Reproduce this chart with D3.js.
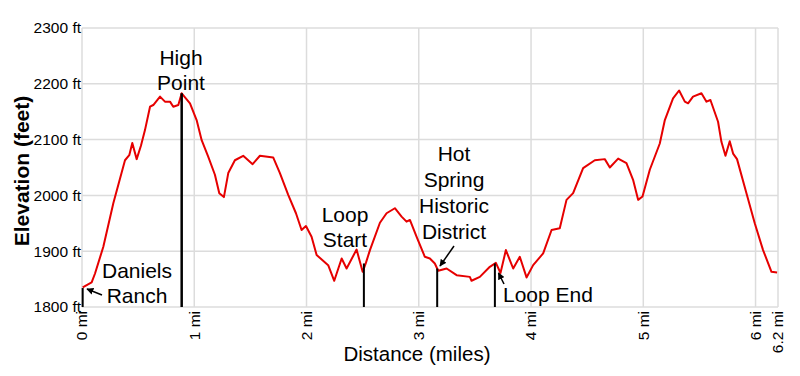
<!DOCTYPE html>
<html>
<head>
<meta charset="utf-8">
<script src="https://cdn.jsdelivr.net/npm/d3@7"></script>
<style>
  body { margin: 0; background: #fff; }
  text { font-family: Arial, "Liberation Sans", sans-serif; fill: #000; }
</style>
</head>
<body>
<div id="chart"></div>
<script>
// distance (miles) and elevation (feet)
const miles = [0.006, 0.086, 0.116, 0.19, 0.279, 0.383, 0.421, 0.448, 0.487, 0.525, 0.561, 0.606, 0.635, 0.695, 0.739, 0.784, 0.813, 0.858, 0.888, 0.962,
  1.021, 1.066, 1.125, 1.184, 1.223, 1.264, 1.303, 1.362, 1.436, 1.52, 1.585, 1.703, 1.763, 1.837, 1.906, 1.956, 1.995,
  2.045, 2.09, 2.193, 2.247, 2.313, 2.357, 2.446, 2.5, 2.529, 2.565, 2.654, 2.713, 2.787, 2.847, 2.891, 2.921, 2.98,
  3.054, 3.099, 3.143, 3.173, 3.248, 3.337, 3.455, 3.47, 3.544, 3.633, 3.687, 3.728, 3.776, 3.841, 3.9, 3.96,
  4.019, 4.108, 4.183, 4.256, 4.316, 4.375, 4.464, 4.568, 4.657, 4.702, 4.776, 4.85, 4.909, 4.954, 4.993,
  5.058, 5.147, 5.192, 5.265, 5.319, 5.37, 5.399, 5.443, 5.518, 5.563, 5.598, 5.666, 5.696, 5.732, 5.77, 5.8, 5.835, 5.919, 5.993,
  6.067, 6.142, 6.192];
const elevation = [1835, 1844, 1860, 1908, 1986, 2063, 2072, 2094, 2065, 2089, 2117, 2159, 2162, 2177, 2168, 2168, 2159, 2162, 2183, 2165,
  2135, 2099, 2069, 2037, 2004, 1997, 2040, 2063, 2071, 2056, 2071, 2068, 2040, 2001, 1968, 1938, 1945,
  1926, 1893, 1875, 1847, 1887, 1869, 1903, 1863, 1879, 1902, 1951, 1968, 1977, 1962, 1953, 1956, 1926,
  1890, 1887, 1878, 1865, 1869, 1857, 1854, 1847, 1854, 1872, 1879, 1861, 1902, 1869, 1890, 1853,
  1875, 1896, 1938, 1941, 1992, 2004, 2049, 2063, 2065, 2050, 2066, 2058, 2028, 1992, 1998,
  2046, 2093, 2135, 2174, 2188, 2168, 2165, 2177, 2183, 2168, 2171, 2132, 2096, 2071, 2097, 2075, 2065, 2004, 1950,
  1902, 1863, 1862];

const yTicks = [1800, 1900, 2000, 2100, 2200, 2300];
const xTicks = [0, 1, 2, 3, 4, 5, 6, 6.2];

// waypoints along the trail
const wpNames = [["Daniels", "Ranch"], ["High", "Point"], ["Loop", "Start"], ["Hot", "Spring", "Historic", "District"], ["Loop End"]];
const wpMiles = [0.006, 0.888, 2.511, 3.164, 3.678];
const wpElev = [1834, 2183, 1878, 1869, 1878];

const width = 800, height = 376;
const x = d3.scaleLinear().domain([0, 6.2]).range([82, 778]);
const y = d3.scaleLinear().domain([1800, 2300]).range([307, 28]);

const svg = d3.select("#chart").append("svg")
  .attr("width", width)
  .attr("height", height);

svg.append("defs").append("marker")
  .attr("id", "arrow")
  .attr("viewBox", "0 0 10 10")
  .attr("refX", 9).attr("refY", 5)
  .attr("markerWidth", 7).attr("markerHeight", 7)
  .attr("markerUnits", "userSpaceOnUse")
  .attr("orient", "auto")
  .append("path")
  .attr("d", "M0,0L10,5L0,10z")
  .attr("fill", "#000");

// grid
svg.append("g").selectAll("line.h")
  .data(yTicks).enter().append("line")
  .attr("x1", x(0)).attr("x2", x(6.2))
  .attr("y1", d => y(d)).attr("y2", d => y(d))
  .attr("stroke", "#dcdcdc").attr("stroke-width", 1.5);

svg.append("g").selectAll("line.v")
  .data(xTicks).enter().append("line")
  .attr("x1", d => x(d)).attr("x2", d => x(d))
  .attr("y1", y(2300)).attr("y2", y(1800))
  .attr("stroke", "#dcdcdc").attr("stroke-width", 1.5);

// y tick labels
svg.append("g").selectAll("text")
  .data(yTicks).enter().append("text")
  .attr("x", 81).attr("y", d => y(d))
  .attr("dy", "0.35em")
  .attr("text-anchor", "end")
  .style("font-size", "15.5px")
  .text(d => d + " ft");

// x tick labels, rotated
svg.append("g").selectAll("text")
  .data(xTicks).enter().append("text")
  .attr("transform", d => `translate(${x(d)},311) rotate(-90)`)
  .attr("dy", "0.35em")
  .attr("text-anchor", "end")
  .style("font-size", "15.5px")
  .text(d => d + " mi");

// axis titles
svg.append("text")
  .attr("transform", "translate(22,171) rotate(-90)")
  .attr("dy", "0.35em")
  .attr("text-anchor", "middle")
  .style("font-size", "21px")
  .style("font-weight", "bold")
  .text("Elevation (feet)");

svg.append("text")
  .attr("x", 417).attr("y", 361)
  .attr("text-anchor", "middle")
  .style("font-size", "20.5px")
  .text("Distance (miles)");

// profile
const line = d3.line()
  .x((d, i) => x(miles[i]))
  .y(d => y(d));

svg.append("path")
  .datum(elevation)
  .attr("d", line)
  .attr("fill", "none")
  .attr("stroke", "#e60000")
  .attr("stroke-width", 2)
  .attr("stroke-linejoin", "round");

// waypoint posts
const postWidth = [2, 2.5, 2, 2, 2];
wpMiles.forEach((m, i) => {
  svg.append("line")
    .attr("x1", x(m)).attr("x2", x(m))
    .attr("y1", y(wpElev[i])).attr("y2", y(1800))
    .attr("stroke", "#000")
    .attr("stroke-width", postWidth[i]);
});

// label placement: [center x, first baseline, line step, anchor]
const labelPos = [[137, 278, 25, "middle"], [181, 65, 25, "middle"], [345, 222, 25, "middle"], [454, 161, 26, "middle"], [503, 302, 25, "start"]];
wpNames.forEach((lines, i) => {
  const p = labelPos[i];
  const t = svg.append("text")
    .attr("text-anchor", p[3])
    .style("font-size", "21px");
  lines.forEach((s, j) => {
    t.append("tspan").attr("x", p[0]).attr("y", p[1] + j * p[2]).text(s);
  });
});

// pointer arrows: [from x, from y, to x, to y]
const arrows = [[102, 295, 87, 289], [454, 246, 440, 266], [504, 284, 498.5, 273]];
svg.append("g").selectAll("line")
  .data(arrows).enter().append("line")
  .attr("x1", d => d[0]).attr("y1", d => d[1])
  .attr("x2", d => d[2]).attr("y2", d => d[3])
  .attr("stroke", "#000")
  .attr("stroke-width", 1.5)
  .attr("marker-end", "url(#arrow)");
</script>
</body>
</html>
